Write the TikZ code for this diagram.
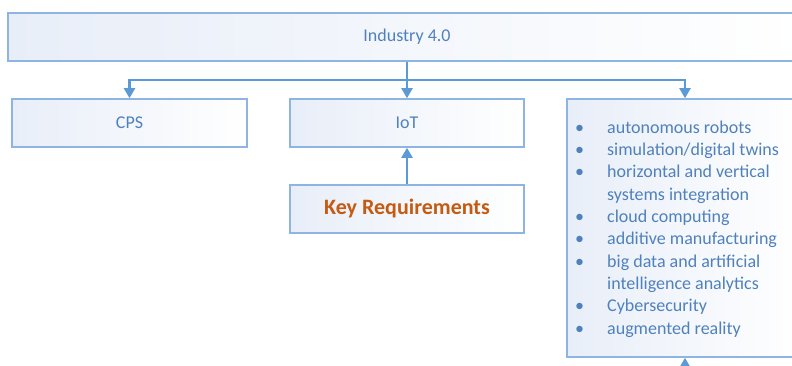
\documentclass[tikz,border=0pt]{standalone}
\usepackage{fontspec}
\setmainfont{Carlito}
\usetikzlibrary{arrows.meta,positioning}
\definecolor{edgeblue}{RGB}{141,180,226}
\definecolor{linkblue}{RGB}{91,155,213}
\definecolor{textblue}{RGB}{79,129,189}
\definecolor{fillblue}{RGB}{232,238,248}
\definecolor{keyorange}{RGB}{197,90,17}
\tikzset{
  box/.style={draw=edgeblue,line width=1.6pt,left color=fillblue,right color=white,
              text=textblue,inner sep=0pt,font=\fontsize{18}{22}\selectfont},   % plain block
  link/.style={draw=linkblue,line width=2.2pt},
  arr/.style={link,-{Triangle[length=10pt,width=11pt]}},
}

\begin{document}
\begin{tikzpicture}[x=1pt,y=-1pt]
  \useasboundingbox (0,0) rectangle (792,365);
  \node[box,minimum width=798pt,minimum height=48pt] (ind) at (407,37) {Industry 4.0};
  \node[box,minimum width=235pt,minimum height=48pt] (cps) at (129.5,123) {CPS};
  \node[box,minimum width=234pt,minimum height=48pt] (iot) at (407,123) {IoT};
  \node[box,minimum width=234pt,minimum height=48pt] (key) at (407,209)
    {\fontsize{22}{26}\selectfont\bfseries\color{keyorange}Key Requirements};
  \node[box,minimum width=236pt,minimum height=258pt] (tech) at (685,228) {};
  % technologies list
  \node[anchor=north west,inner sep=0pt,text=textblue,font=\fontsize{18}{22.3}\selectfont]
    (list) at (575,117.5) {%
    \begin{tabular}{@{}p{32pt}@{}l@{}}
      • & autonomous robots\\
      • & simulation/digital twins\\
      • & horizontal and vertical\\
        & systems integration\\
      • & cloud computing\\
      • & additive manufacturing\\
      • & big data and artificial\\
        & intelligence analytics\\
      • & Cybersecurity\\
      • & augmented reality
    \end{tabular}};
  \coordinate (split) at (407,80);
  \coordinate (below) at (685,380);
  \draw[link] (ind.south) -- (split);
  \draw[arr] (split) -| (cps.north);
  \draw[arr] (split) -- (iot.north);
  \draw[arr] (split) -| (tech.north);
  \draw[arr] (key.north) -- (iot.south);
  \draw[arr] (below) -- (tech.south);
\end{tikzpicture}
\end{document}
